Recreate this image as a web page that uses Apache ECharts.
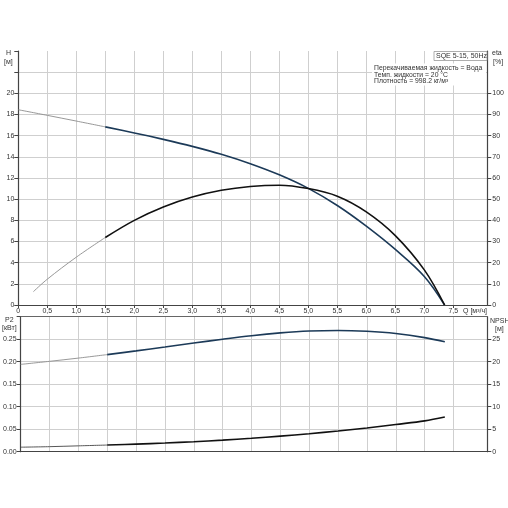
<!DOCTYPE html>
<html><head><meta charset="utf-8">
<script src="https://cdn.jsdelivr.net/npm/echarts@6/dist/echarts.min.js"></script>
<style>html,body{margin:0;padding:0;background:#fff}#c{width:508px;height:508px}</style>
</head><body><div id="c"></div>
<script>
// ---- data ----
const qH     = [0, 0.5, 1.0, 1.5, 2.0, 2.5, 3.0, 3.5, 4.0, 4.5, 5.0, 5.5, 6.0, 6.5, 7.0, 7.35];
const headH  = [18.45, 17.92, 17.38, 16.83, 16.26, 15.65, 14.99, 14.24, 13.35, 12.3, 11.02, 9.4, 7.45, 5.25, 2.7, 0];
const qEta   = [0.26, 0.5, 1.0, 1.5, 2.0, 2.5, 3.0, 3.5, 4.0, 4.5, 5.0, 5.5, 6.0, 6.5, 7.0, 7.35];
const etaVal = [6.3, 12.2, 22.6, 31.9, 40.0, 46.3, 51.0, 54.2, 56.0, 56.6, 55.0, 51.4, 44.0, 32.8, 16.6, 0];
const qLow   = [0, 0.5, 1.0, 1.5, 2.0, 2.5, 3.0, 3.5, 4.0, 4.5, 5.0, 5.5, 6.0, 6.5, 7.0, 7.35];
const p2Val  = [0.194, 0.2008, 0.208, 0.2158, 0.224, 0.2326, 0.2414, 0.25, 0.2578, 0.264, 0.2682, 0.2695, 0.2675, 0.2625, 0.2535, 0.2442];
const npshVal= [1.0, 1.12, 1.3, 1.48, 1.68, 1.92, 2.22, 2.58, 3.0, 3.47, 4.0, 4.6, 5.27, 6.05, 6.85, 7.7];
const qTicks    = [0, 0.5, 1.0, 1.5, 2.0, 2.5, 3.0, 3.5, 4.0, 4.5, 5.0, 5.5, 6.0, 6.5, 7.0, 7.5];
const etaTicks  = [0, 10, 20, 30, 40, 50, 60, 70, 80, 90, 100];
const npshTicks = [0, 5, 10, 15, 20, 25];
const qOperStart = 1.5;
const qRange = [0, 8.086];
const hRange = [0, 24], etaRange = [0, 120], p2Range = [0, 0.30], npshRange = [0, 30];
const infoTitle = 'SQE 5-15, 50Hz';
const infoLines = ['Перекачиваемая жидкость = Вода', 'Темп. жидкости = 20 °C', 'Плотность = 998.2 кг/м³'];

// ---- helpers ----
function pairs(xs, ys, pred) {
  const out = [];
  for (let i = 0; i < xs.length; i++) if (pred(xs[i])) out.push([xs[i], ys[i]]);
  return out;
}
const thin = q => q <= qOperStart;
const thick = q => q >= qOperStart;

const FONT = '"Liberation Sans", Arial, sans-serif';
const TXT = '#333';
const AX = '#444';
const GRIDC = '#cfcfcf';
const NAVY = '#1c3a58';
const GRAY = '#8c8c8c';

function xAxisCommon(gridIndex, showLabels) {
  return {
    type: 'value', gridIndex, min: qRange[0], max: qRange[1],
    axisLine: { show: true, onZero: false, lineStyle: { color: AX, width: 1.2 } },
    axisTick: { show: showLabels, length: 3, inside: false, customValues: qTicks, lineStyle: { color: AX } },
    axisLabel: {
      show: showLabels, customValues: qTicks, margin: 3, fontSize: 7, color: TXT, fontFamily: FONT,
      formatter: v => v === 0 ? '0' : v.toFixed(1).replace('.', ',')
    },
    splitLine: { show: true, lineStyle: { color: GRIDC, width: 1 } }
  };
}
function yAxisCommon(gridIndex, pos, range, interval, maxLabel, fmt, split, custom) {
  const ax = {
    type: 'value', gridIndex, position: pos, min: range[0], max: range[1], interval,
    axisLine: { show: true, onZero: false, lineStyle: { color: AX, width: 1.2 } },
    axisTick: { show: true, length: 4, lineStyle: { color: AX } },
    axisLabel: {
      margin: pos === 'left' ? 4 : 5, fontSize: 7, color: TXT, fontFamily: FONT,
      formatter: v => v > maxLabel + 1e-9 ? '' : fmt(v),
      showMaxLabel: true
    },
    splitLine: { show: split, showMaxLine: false, lineStyle: { color: GRIDC, width: 1 } }
  };
  if (custom) { ax.axisTick.customValues = custom; ax.axisLabel.customValues = custom; }
  return ax;
}

function line(name, data, xi, yi, color, width) {
  return {
    type: 'line', name, data, xAxisIndex: xi, yAxisIndex: yi,
    smooth: 0.35, showSymbol: false, symbol: 'none', silent: true, animation: false,
    lineStyle: { color, width }
  };
}

const option = {
  animation: false,
  backgroundColor: '#fff',
  grid: [
    { left: 18.3, right: 508 - 487.3, top: 51, height: 254 },
    { left: 18.3, right: 508 - 487.3, top: 316.7, height: 135 }
  ],
  xAxis: [
    xAxisCommon(0, true),
    xAxisCommon(1, false),
    { type: 'value', gridIndex: 1, position: 'top', min: qRange[0], max: qRange[1],
      axisLine: { show: true, onZero: false, lineStyle: { color: '#666', width: 1.2 } },
      axisTick: { show: false }, axisLabel: { show: false }, splitLine: { show: false } }
  ],
  yAxis: [
    yAxisCommon(0, 'left', hRange, 2, 20, v => String(v), true),
    yAxisCommon(0, 'right', etaRange, 10, 100, v => String(v), false, etaTicks),
    yAxisCommon(1, 'left', p2Range, 0.05, 0.25, v => v.toFixed(2), true),
    yAxisCommon(1, 'right', npshRange, 5, 25, v => String(v), false, npshTicks)
  ],
  series: [
    line('H thin', pairs(qH, headH, thin), 0, 0, GRAY, 0.9),
    line('H', pairs(qH, headH, thick), 0, 0, NAVY, 1.6),
    line('eta thin', pairs(qEta, etaVal, thin), 0, 1, GRAY, 0.9),
    line('eta', pairs(qEta, etaVal, thick), 0, 1, '#111', 1.6),
    line('P2 thin', pairs(qLow, p2Val, thin), 1, 2, GRAY, 0.9),
    line('P2', pairs(qLow, p2Val, thick), 1, 2, NAVY, 1.6),
    line('NPSH thin', pairs(qLow, npshVal, thin), 1, 3, '#444', 0.9),
    line('NPSH', pairs(qLow, npshVal, thick), 1, 3, '#111', 1.6)
  ],
  graphic: [
    { type: 'text', left: 6, top: 50, style: { text: 'H', fontSize: 7, fill: TXT, fontFamily: FONT } },
    { type: 'text', left: 4, top: 59, style: { text: '[м]', fontSize: 7, fill: TXT, fontFamily: FONT } },
    { type: 'text', left: 492, top: 50, style: { text: 'eta', fontSize: 7, fill: TXT, fontFamily: FONT } },
    { type: 'text', left: 493, top: 59, style: { text: '[%]', fontSize: 7, fill: TXT, fontFamily: FONT } },
    { type: 'text', left: 463, top: 308, style: { text: 'Q [м³/ч]', fontSize: 7, fill: TXT, fontFamily: FONT } },
    { type: 'text', left: 5, top: 317, style: { text: 'P2', fontSize: 7, fill: TXT, fontFamily: FONT } },
    { type: 'text', left: 2, top: 325, style: { text: '[кВт]', fontSize: 7, fill: TXT, fontFamily: FONT } },
    { type: 'text', left: 490, top: 318, style: { text: 'NPSH', fontSize: 7, fill: TXT, fontFamily: FONT } },
    { type: 'text', left: 495, top: 326, style: { text: '[м]', fontSize: 7, fill: TXT, fontFamily: FONT } },
    { type: 'rect', shape: { x: 372, y: 63.5, width: 114, height: 22 }, style: { fill: '#fff' }, z: 10 },
    { type: 'text', left: 374, top: 65, z: 11,
      style: { text: infoLines.join('\n'), fontSize: 6.8, lineHeight: 6.2, fill: TXT, fontFamily: FONT } },
    { type: 'rect', shape: { x: 434, y: 51.5, width: 53, height: 9 }, style: { fill: '#fff', stroke: '#999', lineWidth: 0.8 }, z: 10 },
    { type: 'text', left: 436, top: 52.5, z: 11, style: { text: infoTitle, fontSize: 7, fill: TXT, fontFamily: FONT } }
  ]
};

const chart = echarts.init(document.getElementById('c'), null, { renderer: 'canvas' });
chart.setOption(option);
</script>
</body></html>
